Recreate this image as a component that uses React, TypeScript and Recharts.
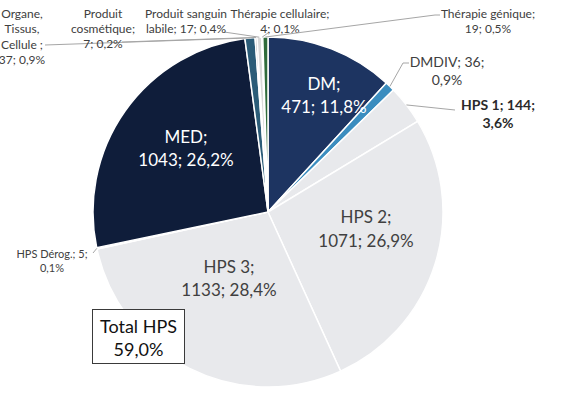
import React from "react";
import { PieChart, Pie, Cell } from "recharts";

const categories = [
  "DM",
  "DMDIV",
  "HPS 1",
  "HPS 2",
  "HPS 3",
  "HPS Dérog.",
  "MED",
  "Organe, Tissus, Cellule",
  "Produit cosmétique",
  "Produit sanguin labile",
  "Thérapie cellulaire",
  "Thérapie génique",
];
const values = [471, 36, 144, 1071, 1133, 5, 1043, 37, 7, 17, 4, 19];
const hpsCategories = ["HPS 1", "HPS 2", "HPS 3", "HPS Dérog."];
const totalLabel = "Total HPS";

const colors = [
  "#1d3461",
  "#3b8dbf",
  "#e8e9ec",
  "#e8e9ec",
  "#e8e9ec",
  "#e8e9ec",
  "#0f1d3a",
  "#2b5c78",
  "#8a8a8a",
  "#d9d9d9",
  "#595959",
  "#2f6b3b",
];

const total = values.reduce((a, b) => a + b, 0);
const fmtPct = (x: number) => (x * 100).toFixed(1).replace(".", ",") + "%";
const hpsTotal = categories.reduce(
  (s, c, i) => (hpsCategories.includes(c) ? s + values[i] : s),
  0
);

const FONT = "Lato, 'Open Sans', sans-serif";
const DARK = "#404040";

type LabelLayout = {
  x: number;
  y: number;
  lh: number;
  size: number;
  color: string;
  bold?: boolean;
  lines: (v: number, p: string) => string[];
  leader?: number[][];
};

const layout: LabelLayout[] = [
  { x: 324, y: 83, lh: 23, size: 17, color: "#ffffff", lines: (v, p) => ["DM;", `${v}; ${p}`] },
  { x: 447, y: 61, lh: 18, size: 14, color: DARK, lines: (v, p) => [`DMDIV; ${v};`, p], leader: [[403, 63], [409, 63]] },
  { x: 498, y: 104, lh: 18, size: 14, color: "#2a2a2a", bold: true, lines: (v, p) => [`HPS 1; ${v};`, p], leader: [[455, 110]] },
  { x: 366, y: 216, lh: 24, size: 17, color: DARK, lines: (v, p) => ["HPS 2;", `${v}; ${p}`] },
  { x: 229, y: 266, lh: 23, size: 17, color: DARK, lines: (v, p) => ["HPS 3;", `${v}; ${p}`] },
  { x: 52, y: 253, lh: 14, size: 11, color: DARK, lines: (v, p) => [`HPS Dérog.; ${v};`, p], leader: [[93, 253]] },
  { x: 186, y: 136, lh: 23, size: 17, color: "#ffffff", lines: (v, p) => ["MED;", `${v}; ${p}`] },
  { x: 22, y: 13, lh: 15.5, size: 12, color: DARK, lines: (v, p) => ["Organe,", "Tissus,", "Cellule ;", `${v}; ${p}`], leader: [[45, 45]] },
  { x: 103, y: 13, lh: 15, size: 12, color: DARK, lines: (v, p) => ["Produit", "cosmétique;", `${v}; ${p}`], leader: [[122, 42]] },
  { x: 186, y: 13, lh: 15, size: 12, color: DARK, lines: (v, p) => ["Produit sanguin", `labile; ${v}; ${p}`], leader: [[224, 32]] },
  { x: 280, y: 13, lh: 15, size: 12, color: DARK, lines: (v, p) => ["Thérapie cellulaire;", `${v}; ${p}`], leader: [[268, 33]] },
  { x: 488, y: 13, lh: 15, size: 12, color: DARK, lines: (v, p) => ["Thérapie génique;", `${v}; ${p}`], leader: [[435, 15], [440, 15]] },
];

const data = categories.map((name, i) => ({ name, value: values[i] }));

const RAD = Math.PI / 180;

const renderLabel = (props: any) => {
  const { cx, cy, midAngle, outerRadius, index, value } = props;
  const L = layout[index];
  if (!L) return null;
  const pct = fmtPct(value / total);
  const lines = L.lines(value, pct);
  const ex = cx + outerRadius * Math.cos(-midAngle * RAD);
  const ey = cy + outerRadius * Math.sin(-midAngle * RAD);
  return (
    <g key={`lbl-${index}`}>
      {L.leader && (
        <polyline
          points={[[ex, ey], ...L.leader].map((p) => p.join(",")).join(" ")}
          fill="none"
          stroke="#a6a6a6"
          strokeWidth={1}
        />
      )}
      {lines.map((t, i) => (
        <text
          key={i}
          x={L.x}
          y={L.y + i * L.lh}
          textAnchor="middle"
          dominantBaseline="central"
          fill={L.color}
          fontSize={L.size}
          fontWeight={L.bold ? 700 : 400}
          fontFamily={FONT}
        >
          {t}
        </text>
      ))}
    </g>
  );
};

export default function App() {
  return (
    <div style={{ position: "absolute", left: 0, top: 0, width: 567, height: 394, background: "#fff", overflow: "hidden" }}>
      <PieChart width={567} height={394} margin={{ top: 0, right: 0, bottom: 0, left: 0 }}>
        <Pie
          data={data}
          dataKey="value"
          nameKey="name"
          cx={268}
          cy={212}
          outerRadius={175}
          startAngle={90}
          endAngle={-270}
          stroke="#ffffff"
          strokeWidth={1.5}
          isAnimationActive={false}
          labelLine={false}
          label={renderLabel}
        >
          {data.map((d, i) => (
            <Cell key={d.name} fill={colors[i]} />
          ))}
        </Pie>
      </PieChart>
      <div
        style={{
          position: "absolute",
          left: 92,
          top: 309,
          width: 93,
          height: 55,
          border: "1px solid #3a3a3a",
          background: "#ffffff",
          fontFamily: FONT,
          fontSize: 18,
          color: "#111",
          textAlign: "center",
          lineHeight: "23px",
          paddingTop: 5,
          boxSizing: "border-box",
        }}
      >
        <div>{totalLabel}</div>
        <div>{fmtPct(hpsTotal / total)}</div>
      </div>
    </div>
  );
}
